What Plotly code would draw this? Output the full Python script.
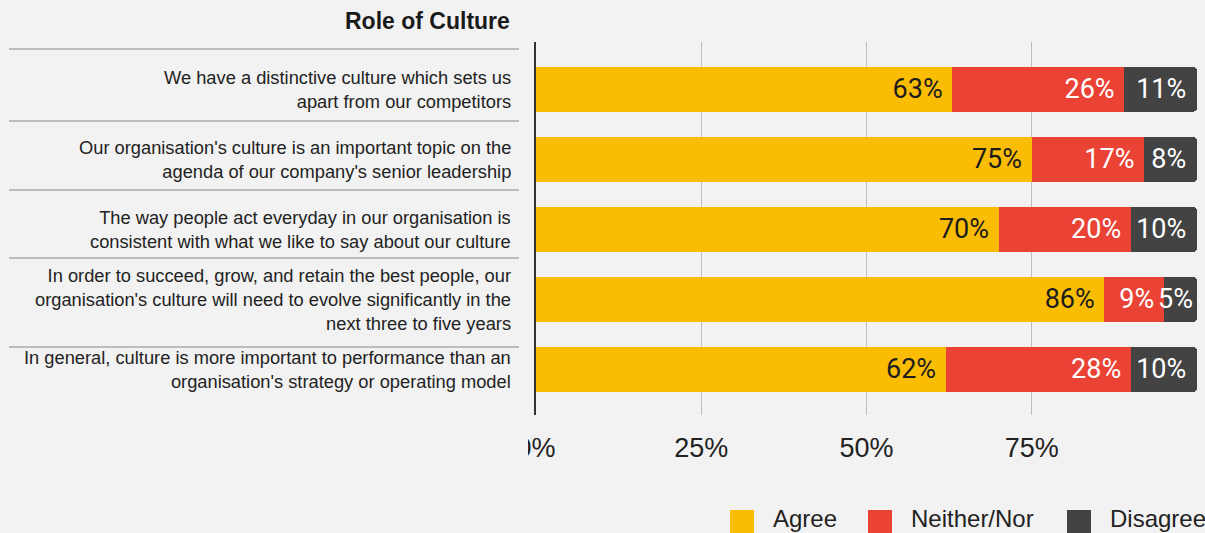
import plotly.graph_objects as go

# Survey statements (top to bottom) and response shares in percent
statements = [
    "We have a distinctive culture which sets us<br>apart from our competitors",
    "Our organisation's culture is an important topic on the<br>agenda of our company's senior leadership",
    "The way people act everyday in our organisation is<br>consistent with what we like to say about our culture",
    "In order to succeed, grow, and retain the best people, our<br>organisation's culture will need to evolve significantly in the<br>next three to five years",
    "In general, culture is more important to performance than an<br>organisation's strategy or operating model",
]
agree = [63, 75, 70, 86, 62]
neither = [26, 17, 20, 9, 28]
disagree = [11, 8, 10, 5, 10]

series_names = ["Agree", "Neither/Nor", "Disagree"]
tick_vals = [0, 25, 50, 75, 100]
tick_text = ["0%", "25%", "50%", "75%", ""]

title_text = "Role of Culture"

# Styling
BG = "#f2f2f2"
COLORS = ["#fbbc04", "#ea4335", "#434343"]
TEXT_COLORS = ["#1c1c1c", "#ffffff", "#ffffff"]
VALUE_FONT_SIZE = 27
FIG_W, FIG_H = 1205, 533
L, T, W, H = 536, 42, 661, 373  # plot area in pixels


def xp(px):
    """pixel x -> paper x"""
    return (px - L) / W


def yp(py):
    """pixel y -> paper y"""
    return (T + H - py) / H


rows = list(range(len(statements)))
fig = go.Figure()

for name, vals, color, tcolor in zip(series_names, [agree, neither, disagree], COLORS, TEXT_COLORS):
    labels = [f"{v}%" + ("\u00a0" if v >= 8 else "") for v in vals]
    fig.add_trace(go.Bar(
        y=rows, x=vals, orientation="h", name=name,
        marker=dict(color=color, line=dict(width=0)),
        width=0.64,
        text=labels, textposition="inside", insidetextanchor="end",
        constraintext="none", textangle=0,
        textfont=dict(family="Roboto", size=VALUE_FONT_SIZE, color=tcolor),
        hoverinfo="skip", showlegend=False,
    ))

annotations = []
shapes = []

# Title
annotations.append(dict(
    text="<b>" + title_text + "</b>", xref="paper", yref="paper",
    x=xp(512), y=yp(21), xanchor="right", yanchor="middle", showarrow=False,
    font=dict(family="Arial", size=23, color="#1a1a1a"),
))

# Statement labels on the left
for i, s in enumerate(statements):
    annotations.append(dict(
        text=s, xref="paper", yref="y", x=xp(513), y=i,
        xanchor="right", yanchor="middle", align="right", showarrow=False,
        font=dict(family="Arial", size=18.3, color="#222222"),
    ))

# Row separators in the label column
for py in [49, 121, 190, 258, 347]:
    shapes.append(dict(
        type="line", xref="paper", yref="paper",
        x0=xp(9), x1=xp(519), y0=yp(py), y1=yp(py),
        line=dict(color="#bdbdbd", width=2),
    ))

# Mask the left side of the first tick label
shapes.append(dict(
    type="rect", xref="paper", yref="paper", layer="above",
    x0=xp(440), x1=xp(528), y0=yp(475), y1=yp(425),
    fillcolor=BG, line=dict(width=0),
))

# Custom legend along the bottom
legend_x = [730, 868, 1067]
for name, color, lx in zip(series_names, COLORS, legend_x):
    shapes.append(dict(
        type="rect", xref="paper", yref="paper",
        x0=xp(lx), x1=xp(lx + 24), y0=yp(534), y1=yp(510),
        fillcolor=color, line=dict(width=0),
    ))
    annotations.append(dict(
        text=name, xref="paper", yref="paper", x=xp(lx + 41), y=yp(518),
        xanchor="left", yanchor="middle", showarrow=False,
        font=dict(family="Arial", size=24, color="#222222"),
    ))

fig.update_layout(
    width=FIG_W, height=FIG_H,
    margin=dict(l=L, r=FIG_W - L - W, t=T, b=FIG_H - T - H, pad=0),
    paper_bgcolor=BG, plot_bgcolor=BG,
    barmode="stack", barcornerradius=4,
    uniformtext=dict(minsize=VALUE_FONT_SIZE, mode="show"),
    showlegend=False,
    annotations=annotations, shapes=shapes,
    xaxis=dict(
        range=[0, 100], tickvals=tick_vals, ticktext=tick_text,
        showgrid=True, gridcolor="#bdbdbd", gridwidth=1,
        zeroline=False, showline=False, ticks="",
        ticklabelstandoff=14,
        tickfont=dict(family="Arial", size=27, color="#222222"),
        fixedrange=True,
    ),
    yaxis=dict(
        range=[4.65, -0.675], showticklabels=False, showgrid=False,
        zeroline=False, showline=True, linecolor="#333333", linewidth=2,
        ticks="", fixedrange=True,
    ),
)

fig.write_html("out.html", config={"displayModeBar": False})
